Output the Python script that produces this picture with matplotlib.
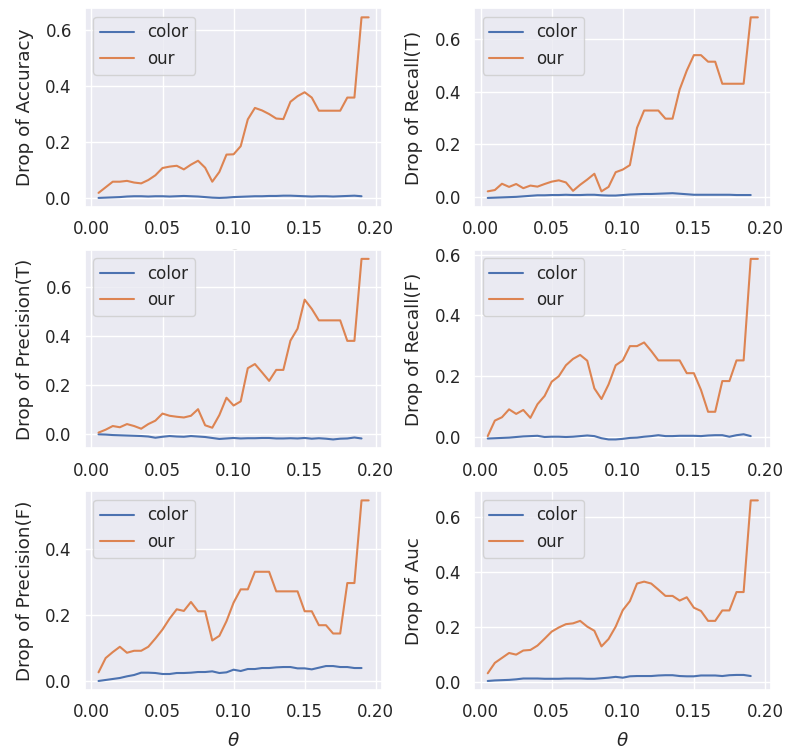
import numpy as np
import matplotlib
matplotlib.use("Agg")
import matplotlib.pyplot as plt
import seaborn as sns

# theta values (our method has one more point than color)
theta_our = np.round(np.arange(1, 40) * 0.005, 3)
theta_color = theta_our[:38]

metric_names = ["Accuracy", "Recall(T)", "Precision(T)", "Recall(F)", "Precision(F)", "Auc"]

acc_color = [0.000, 0.001, 0.002, 0.003, 0.005, 0.006, 0.006, 0.005, 0.006, 0.006,
             0.005, 0.006, 0.007, 0.006, 0.005, 0.003, 0.001, 0.000, 0.001, 0.003,
             0.004, 0.005, 0.006, 0.006, 0.007, 0.007, 0.008, 0.008, 0.007, 0.006,
             0.005, 0.006, 0.006, 0.005, 0.006, 0.007, 0.008, 0.006]
acc_our = [0.018, 0.038, 0.058, 0.058, 0.061, 0.055, 0.052, 0.064, 0.081, 0.107,
           0.112, 0.115, 0.102, 0.119, 0.133, 0.108, 0.058, 0.093, 0.155, 0.156,
           0.185, 0.281, 0.322, 0.313, 0.300, 0.284, 0.282, 0.344, 0.364, 0.378,
           0.359, 0.312, 0.312, 0.312, 0.312, 0.359, 0.359, 0.646, 0.646]

rt_color = [-0.004, -0.003, -0.002, -0.001, 0.000, 0.002, 0.004, 0.006, 0.006, 0.007,
            0.007, 0.008, 0.007, 0.007, 0.008, 0.008, 0.006, 0.005, 0.005, 0.007,
            0.009, 0.010, 0.011, 0.011, 0.012, 0.013, 0.014, 0.012, 0.010, 0.008,
            0.008, 0.008, 0.008, 0.008, 0.008, 0.007, 0.007, 0.007]
rt_our = [0.021, 0.026, 0.050, 0.038, 0.049, 0.033, 0.043, 0.039, 0.049, 0.058,
          0.063, 0.055, 0.023, 0.046, 0.066, 0.088, 0.021, 0.038, 0.094, 0.104,
          0.121, 0.263, 0.329, 0.329, 0.329, 0.298, 0.298, 0.409, 0.481, 0.540,
          0.540, 0.515, 0.515, 0.431, 0.431, 0.431, 0.431, 0.684, 0.684]

pt_color = [-0.003, -0.004, -0.006, -0.007, -0.008, -0.009, -0.010, -0.012, -0.017, -0.013,
            -0.010, -0.012, -0.013, -0.010, -0.012, -0.014, -0.018, -0.022, -0.020, -0.018,
            -0.020, -0.019, -0.019, -0.018, -0.018, -0.020, -0.020, -0.019, -0.020, -0.018,
            -0.021, -0.019, -0.021, -0.024, -0.021, -0.020, -0.016, -0.020]
pt_our = [0.004, 0.016, 0.031, 0.026, 0.039, 0.031, 0.020, 0.039, 0.053, 0.082,
          0.073, 0.069, 0.066, 0.073, 0.100, 0.034, 0.024, 0.076, 0.147, 0.115,
          0.132, 0.268, 0.285, 0.251, 0.216, 0.261, 0.261, 0.381, 0.430, 0.549,
          0.511, 0.464, 0.464, 0.464, 0.464, 0.380, 0.380, 0.716, 0.716]

rf_color = [-0.005, -0.004, -0.003, -0.002, 0.000, 0.002, 0.003, 0.004, 0.000, 0.001,
            0.001, 0.000, 0.001, 0.003, 0.005, 0.003, -0.004, -0.008, -0.008, -0.006,
            -0.003, -0.002, 0.001, 0.003, 0.006, 0.003, 0.003, 0.004, 0.004, 0.004,
            0.003, 0.005, 0.006, 0.006, 0.001, 0.006, 0.009, 0.003]
rf_our = [0.003, 0.054, 0.065, 0.091, 0.076, 0.089, 0.063, 0.108, 0.135, 0.182,
          0.200, 0.236, 0.257, 0.270, 0.251, 0.160, 0.125, 0.173, 0.236, 0.252,
          0.299, 0.299, 0.311, 0.283, 0.252, 0.252, 0.252, 0.252, 0.210, 0.210,
          0.155, 0.083, 0.083, 0.184, 0.184, 0.252, 0.252, 0.586, 0.586]

pf_color = [0.001, 0.004, 0.007, 0.010, 0.015, 0.019, 0.026, 0.026, 0.025, 0.022,
            0.022, 0.025, 0.025, 0.026, 0.028, 0.028, 0.030, 0.025, 0.027, 0.035,
            0.031, 0.037, 0.037, 0.040, 0.040, 0.042, 0.043, 0.043, 0.039, 0.039,
            0.036, 0.041, 0.046, 0.046, 0.043, 0.043, 0.040, 0.040]
pf_our = [0.027, 0.070, 0.088, 0.104, 0.086, 0.092, 0.092, 0.104, 0.129, 0.156,
          0.189, 0.217, 0.212, 0.239, 0.211, 0.211, 0.123, 0.137, 0.181, 0.237,
          0.277, 0.277, 0.330, 0.330, 0.330, 0.271, 0.271, 0.271, 0.271, 0.211,
          0.211, 0.169, 0.169, 0.144, 0.144, 0.296, 0.296, 0.545, 0.545]

auc_color = [0.002, 0.004, 0.005, 0.006, 0.008, 0.011, 0.011, 0.011, 0.010, 0.010,
             0.010, 0.011, 0.011, 0.011, 0.010, 0.010, 0.012, 0.014, 0.017, 0.014,
             0.019, 0.020, 0.020, 0.020, 0.022, 0.023, 0.023, 0.020, 0.019, 0.019,
             0.022, 0.022, 0.022, 0.020, 0.023, 0.024, 0.024, 0.020]
auc_our = [0.030, 0.068, 0.086, 0.104, 0.098, 0.113, 0.115, 0.131, 0.156, 0.182,
           0.197, 0.209, 0.212, 0.221, 0.200, 0.185, 0.128, 0.155, 0.200, 0.260,
           0.293, 0.357, 0.364, 0.357, 0.335, 0.312, 0.312, 0.295, 0.307, 0.269,
           0.257, 0.221, 0.221, 0.259, 0.259, 0.326, 0.326, 0.660, 0.660]

color_series = [acc_color, rt_color, pt_color, rf_color, pf_color, auc_color]
our_series = [acc_our, rt_our, pt_our, rf_our, pf_our, auc_our]


def plot_data():
    sns.set_theme(font_scale=1.1)
    plt.rcParams["axes.labelpad"] = 8
    fig, axes = plt.subplots(3, 2, figsize=(8.06, 7.56), dpi=100)
    fig.subplots_adjust(left=0.1055, right=0.957, bottom=0.0873, top=0.989,
                        wspace=0.31, hspace=0.216)

    for ax, name, c_vals, o_vals in zip(axes.flat, metric_names, color_series, our_series):
        ax.plot(theta_color, c_vals, label="color")
        ax.plot(theta_our, o_vals, label="our")
        ax.set_xlabel(r"$\theta$")
        ax.set_ylabel("Drop of " + name)
        ax.set_xticks([0.0, 0.05, 0.10, 0.15, 0.20])
        ax.legend(loc="upper left")

    fig.savefig("out.png", dpi=100)


if __name__ == "__main__":
    plot_data()
